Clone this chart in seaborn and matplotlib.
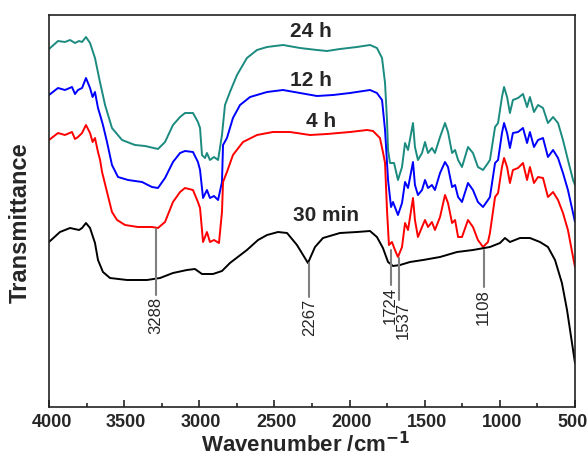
import numpy as np
import pandas as pd
import matplotlib
matplotlib.use("Agg")
import matplotlib.pyplot as plt
import matplotlib.transforms as mtransforms
import seaborn as sns

# ---------------- data ----------------
wn_24h = [4000, 3940, 3894, 3860, 3827, 3800, 3780, 3754, 3727, 3694, 3661, 3627, 3581, 3514, 3428, 3361,
          3275, 3228, 3175, 3128, 3095, 3042, 3009, 2995, 2982, 2962, 2949, 2929, 2902, 2875, 2849,
          2829, 2796, 2749, 2683, 2616, 2549, 2443, 2330, 2217, 2150, 2064, 1951, 1864, 1818, 1784,
          1764, 1751, 1744, 1731, 1704, 1678, 1651, 1631, 1611, 1578, 1565, 1545, 1518, 1498, 1478,
          1452, 1432, 1398, 1365, 1345, 1318, 1298, 1278, 1252, 1212, 1179, 1146, 1112, 1079, 1066,
          1032, 1012, 986, 972, 952, 933, 913, 879, 846, 819, 800, 773, 746, 713, 680, 646, 613,
          580, 547, 513, 500]
t_24h = [358, 366, 365, 367, 364, 366, 365, 370, 364, 349, 325, 302, 279, 267, 262, 261,
         258, 265, 282, 290, 294, 294, 285, 279, 252, 249, 254, 247, 250, 247, 272,
         302, 315, 332, 349, 357, 360, 362, 359, 357, 356, 358, 360, 362, 359, 349,
         324, 287, 257, 244, 244, 227, 240, 264, 257, 284, 260, 247, 254, 265, 254,
         259, 254, 270, 284, 275, 254, 257, 247, 240, 260, 254, 240, 237, 244, 247,
         280, 284, 310, 320, 310, 294, 307, 309, 313, 300, 310, 295, 302, 299, 284, 290, 284,
         267, 247, 227, 222]

wn_12h = [4000, 3940, 3894, 3847, 3827, 3807, 3780, 3754, 3727, 3710, 3694, 3674, 3660, 3641, 3614, 3581,
          3541, 3474, 3381, 3315, 3275, 3228, 3175, 3128, 3095, 3042, 3009, 2995, 2975, 2949, 2929,
          2902, 2875, 2849, 2842, 2816, 2776, 2729, 2662, 2549, 2443, 2330, 2217, 2110, 1997, 1864,
          1818, 1784, 1764, 1744, 1724, 1711, 1678, 1651, 1631, 1611, 1578, 1565, 1545, 1518, 1498,
          1478, 1452, 1432, 1398, 1365, 1345, 1318, 1298, 1278, 1252, 1212, 1179, 1146, 1112, 1079,
          1066, 1032, 1012, 986, 972, 952, 933, 913, 879, 846, 819, 800, 773, 746, 713, 680, 646,
          613, 580, 547, 513, 500]
t_12h = [312, 319, 317, 320, 313, 317, 319, 329, 319, 310, 315, 299, 292, 282, 265, 242,
         230, 227, 225, 220, 219, 229, 245, 254, 256, 255, 245, 237, 209, 217, 209,
         211, 207, 225, 262, 269, 289, 302, 310, 315, 317, 314, 311, 312, 314, 317,
         314, 307, 277, 227, 200, 205, 192, 204, 225, 219, 245, 222, 212, 217, 227,
         219, 222, 217, 234, 245, 240, 220, 222, 210, 205, 224, 217, 205, 200, 207,
         210, 244, 247, 274, 284, 274, 259, 274, 275, 279, 264, 275, 260, 267, 269, 250, 257,
         249, 234, 217, 194, 185]

wn_4h = [4000, 3940, 3894, 3847, 3827, 3807, 3780, 3754, 3727, 3710, 3694, 3674, 3660, 3647, 3614, 3581,
         3547, 3494, 3408, 3315, 3275, 3228, 3175, 3128, 3095, 3042, 3009, 2995, 2975, 2949, 2929,
         2902, 2869, 2849, 2842, 2816, 2776, 2709, 2616, 2510, 2396, 2263, 2150, 1997, 1884, 1844,
         1798, 1778, 1764, 1751, 1738, 1718, 1698, 1678, 1651, 1631, 1611, 1578, 1565, 1545, 1518,
         1498, 1478, 1452, 1432, 1398, 1365, 1345, 1318, 1298, 1278, 1252, 1212, 1179, 1146, 1112,
         1079, 1066, 1032, 1012, 986, 972, 952, 933, 913, 879, 846, 819, 800, 773, 746, 713, 680,
         646, 613, 580, 547, 513, 500]
t_4h = [267, 274, 272, 275, 268, 270, 274, 282, 274, 265, 269, 255, 247, 235, 215, 195,
        187, 182, 180, 180, 179, 185, 205, 215, 219, 217, 205, 199, 165, 175, 165,
        167, 164, 195, 225, 235, 252, 265, 272, 275, 275, 272, 273, 275, 277, 276,
        269, 255, 244, 197, 162, 165, 157, 150, 160, 184, 177, 209, 187, 170, 180,
        187, 180, 185, 177, 190, 212, 204, 184, 187, 170, 170, 187, 180, 167, 160,
        165, 174, 210, 214, 240, 249, 240, 224, 237, 239, 244, 227, 240, 224, 230, 229, 210,
        215, 207, 194, 177, 150, 140]

wn_30m = [4000, 3927, 3860, 3800, 3780, 3754, 3727, 3694, 3674, 3641, 3594, 3481, 3348, 3261, 3175,
          3082, 3029, 2982, 2909, 2849, 2796, 2683, 2609, 2549, 2476, 2416, 2350, 2277, 2230,
          2177, 2064, 1951, 1864, 1818, 1778, 1744, 1711, 1664, 1598, 1511, 1398, 1285, 1179,
          1066, 999, 966, 933, 866, 800, 733, 680, 633, 587, 553, 520, 500]
t_30m = [165, 175, 179, 177, 179, 184, 179, 164, 147, 135, 129, 127, 127, 129, 134,
         137, 138, 133, 133, 136, 144, 157, 167, 172, 175, 174, 162, 144, 160,
         169, 174, 175, 176, 170, 159, 145, 141, 142, 145, 147, 150, 155, 157,
         160, 164, 169, 165, 169, 169, 165, 160, 147, 124, 97, 64, 44]

series_names = ["24 h", "12 h", "4 h", "30 min"]
series_colors = ["#1b8b80", "#0000ff", "#ff0000", "#000000"]
label_x = [2255, 2255, 2190, 2160]
label_y = [376, 327, 286, 192]

ann_labels = ["3288", "2267", "1724", "1537", "1108"]
ann_line_x = [3288, 2267, 1724, 1671, 1108]
ann_text_x = [3288, 2267, 1730, 1644, 1108]
ann_top = [178, 144, 157, 149, 157]
ann_bottom = [112, 110, 122, 107, 120]

# ---------------- plotting ----------------
sns.set_style("ticks")
plt.rcParams["font.family"] = ["Liberation Sans", "DejaVu Sans"]

fig = plt.figure(figsize=(5.88, 4.59), dpi=100)
ax = fig.add_axes([49 / 588, 1 - 407 / 459, 526 / 588, 392 / 459])

xs = [wn_24h, wn_12h, wn_4h, wn_30m]
ys = [t_24h, t_12h, t_4h, t_30m]
for name, col, x, y in zip(series_names, series_colors, xs, ys):
    df = pd.DataFrame({"wn": x, "t": y})
    sns.lineplot(data=df, x="wn", y="t", ax=ax, color=col, lw=1.4,
                 sort=False, estimator=None)

for name, lx, ly in zip(series_names, label_x, label_y):
    ax.text(lx, ly, name, ha="center", va="center", fontsize=15, fontweight="bold")

for lab, lx, tx, top, bot in zip(ann_labels, ann_line_x, ann_text_x, ann_top, ann_bottom):
    ax.plot([lx, lx], [top, bot], color="#808080", lw=1.5)
    ax.text(tx, bot - 2, lab, rotation=90, ha="center", va="top", fontsize=12)

ax.set_xlim(4000, 500)
ax.set_ylim(0, 392)
ax.set_xticks([4000, 3500, 3000, 2500, 2000, 1500, 1000, 500])
ax.set_xticks([3750, 3250, 2750, 2250, 1750, 1250, 750], minor=True)
ax.set_yticks([])
ax.tick_params(axis="x", which="major", direction="in", length=5, width=1.2,
               labelsize=13, pad=5, top=False)
ax.tick_params(axis="x", which="minor", direction="in", length=3, width=1.2, top=False)
labels = ax.get_xticklabels()
for i, lbl in enumerate(labels):
    lbl.set_fontweight("bold")
    shift = 3 if i == 0 else (-2 if i == len(labels) - 1 else 2)
    lbl.set_transform(lbl.get_transform() +
                      mtransforms.ScaledTranslation(shift / 100, 0, fig.dpi_scale_trans))
for sp in ax.spines.values():
    sp.set_visible(True)
    sp.set_linewidth(1.2)
    sp.set_color("#222222")

ax.set_xlabel("Wavenumber /cm$^{\\mathbf{-1}}$", fontsize=16, fontweight="bold")
ax.xaxis.set_label_coords(0.487, -0.064)
ax.set_ylabel("Transmittance", fontsize=17, fontweight="bold")
ax.yaxis.set_label_coords(-0.032, 0.469)

fig.savefig("out.png", dpi=100)
